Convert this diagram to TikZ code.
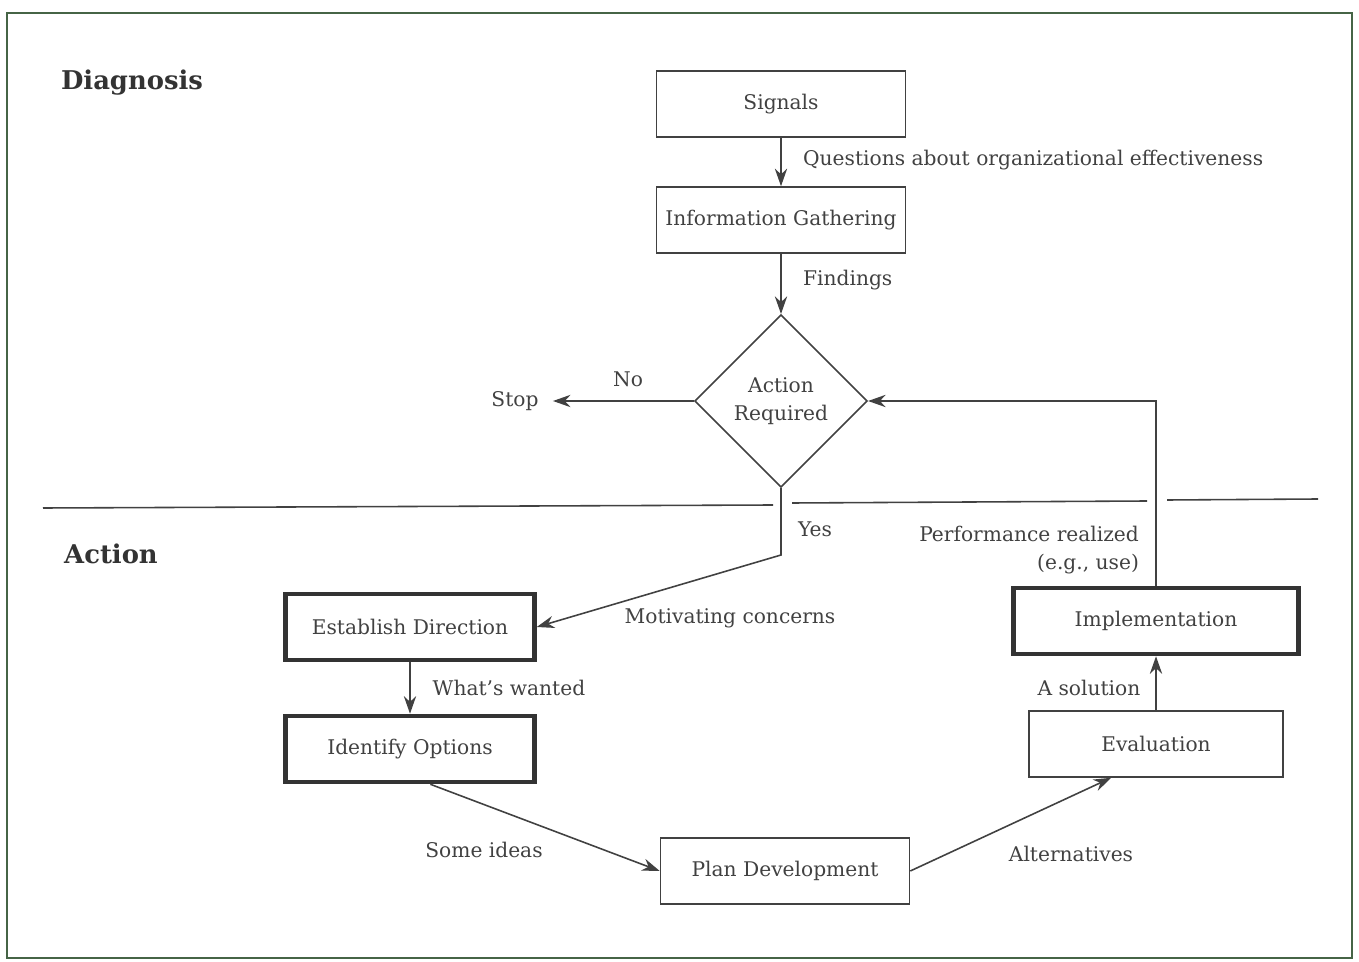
\documentclass[tikz,border=0pt]{standalone}
\usepackage{fontspec}
\setmainfont{DejaVu Serif}
\usepackage{tikz}
\usetikzlibrary{positioning,arrows.meta,shapes.geometric,calc}

\definecolor{inkgray}{RGB}{65,65,65}
\definecolor{framegreen}{RGB}{70,100,70}

\begin{document}
\begin{tikzpicture}[
  x=0.02cm, y=-0.02cm,
  stepbox/.style={rectangle, draw=inkgray, line width=0.9pt, minimum width=4.98cm, minimum height=1.32cm, font={\fontsize{11.5}{16}\selectfont}, text=inkgray},
  keybox/.style={stepbox, draw=black!80, line width=2.6pt},
  decision/.style={diamond, draw=inkgray, line width=0.9pt, aspect=1, inner sep=0pt, minimum size=3.45cm, align=center, font={\fontsize{11.5}{16}\selectfont}, text=inkgray},
  flow/.style={draw=inkgray, line width=0.9pt, -{Stealth[length=10pt,width=7pt]}},
  lbl/.style={font={\fontsize{11.5}{16}\selectfont}, text=inkgray, inner sep=1pt},
  region/.style={font={\fontsize{14.7}{17}\selectfont\bfseries}, text=black!80},
  divider/.style={draw=inkgray, line width=0.9pt}
]
\useasboundingbox (0,0) rectangle (1359,962);
\draw[framegreen, line width=1.4pt] (7,13) rectangle (1352,958);

% section headings
\node[region] (diag) at (132,83) {Diagnosis};
\node[region] (act) at (111,554) {Action};
\draw[divider] (43,508) -- (773,505);
\draw[divider] (792,503) -- (1147,501);
\draw[divider] (1167,500) -- (1318,499);

% diagnosis part
\node[stepbox] (sig) at (781,104) {Signals};
\node[stepbox] (info) at (781,220) {Information Gathering};
\node[decision] (dec) at (781,401) {Action\\Required};
\node[lbl, inner xsep=8pt] (stop) at (515,401) {Stop};

% action part
\node[keybox] (estab) at (410,627) {Establish Direction};
\node[keybox] (ident) at (410,749) {Identify Options};
\node[stepbox] (plan) at (785,871) {Plan Development};
\node[stepbox, minimum width=5.08cm] (eval) at (1156,744) {Evaluation};
\node[keybox, minimum width=5.7cm] (impl) at (1156,621) {Implementation};
\coordinate (yesbend) at (781,555);

\draw[flow] (sig) -- (info);
\draw[flow] (info) -- (dec);
\draw[flow] (dec.west) -- (stop);
\draw[flow] (dec.south) -- (yesbend) -- (estab.east);
\draw[flow] (estab) -- (ident);
\draw[flow] (ident.-60) -- (plan.west);
\draw[flow] (plan.east) -- (eval.217);
\draw[flow] (eval) -- (impl);
\draw[flow] (impl.north) |- (dec.east);

% connector labels
\node[lbl, anchor=west] (qlbl) at (801,160) {Questions about organizational effectiveness};
\node[lbl, anchor=west] (flbl) at (801,280) {Findings};
\node[lbl] (nolbl) at (628,379) {No};
\node[lbl] (yeslbl) at (815,529) {Yes};
\node[lbl] (mlbl) at (730,618) {Motivating concerns};
\node[lbl] (wlbl) at (509,688) {What's wanted};
\node[lbl] (slbl) at (484,850) {Some ideas};
\node[lbl] (albl) at (1071,854) {Alternatives};
\node[lbl] (solbl) at (1089,688) {A solution};
\node[lbl, anchor=east, align=right] (plbl) at (1141,550) {Performance realized\\(e.g., use)};
\end{tikzpicture}
\end{document}
